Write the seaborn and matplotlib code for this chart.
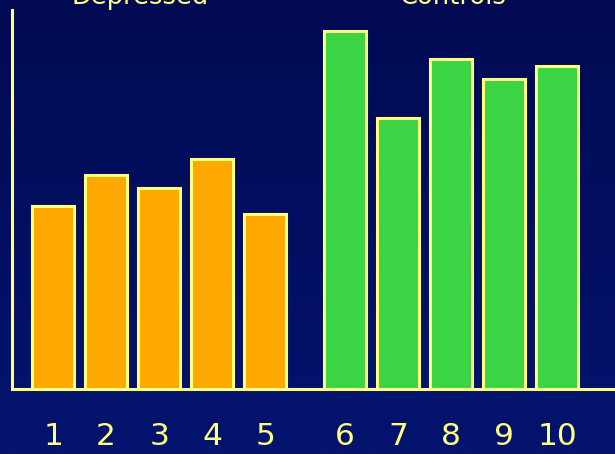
import numpy as np
import pandas as pd
import matplotlib
matplotlib.use("Agg")
import matplotlib.pyplot as plt
from matplotlib.colors import LinearSegmentedColormap
import seaborn as sns

# Subjects, their group and the measured value for each
subjects = ["1", "2", "3", "4", "5", "6", "7", "8", "9", "10"]
groups = ["Depressed"] * 5 + ["Controls"] * 5
values = [18.3, 21.4, 20.1, 23.0, 17.5, 35.8, 27.1, 33.0, 31.0, 32.3]
group_names = ["Depressed", "Controls"]

YELLOW = "#FFFF80"
palette = {"Depressed": "#FFA800", "Controls": "#3AD444"}

sns.set_theme(style="white")
plt.rcParams["font.family"] = ["DejaVu Sans"]

# Bars sit one unit apart, with an extra half unit between the two groups
group_gap = 0.5
positions = [i + 1 + (group_gap if g == "Controls" else 0.0)
             for i, g in enumerate(groups)]
df = pd.DataFrame({"pos": positions, "value": values, "group": groups,
                   "subject": subjects})

fig = plt.figure(figsize=(6.15, 4.54), dpi=100)

# Navy background, slightly brighter toward the bottom
bg = fig.add_axes([0, 0, 1, 1], zorder=-10)
cmap = LinearSegmentedColormap.from_list("navy", ["#010A52", "#04146F"])
bg.imshow(np.linspace(0, 1, 256).reshape(-1, 1), aspect="auto", cmap=cmap,
          extent=[0, 1, 0, 1])
bg.set_axis_off()

ax = fig.add_axes([12 / 615, 65 / 454, 1 - 12 / 615, 379 / 454])
ax.patch.set_alpha(0)

sns.barplot(data=df, x="pos", y="value", hue="group", palette=palette,
            native_scale=True, width=0.8, dodge=False, legend=False,
            edgecolor=YELLOW, linewidth=2.2, saturation=1, ax=ax)

ax.set_xlim(0.226, 11.594)
ax.set_ylim(0, 37.9)
ax.set_xticks(positions)
ax.set_xticklabels(subjects)
ax.set_yticks([])
ax.set_xlabel("")
ax.set_ylabel("")
ax.tick_params(axis="x", length=0, pad=24, labelsize=22.5, labelcolor=YELLOW)

for side in ("top", "right"):
    ax.spines[side].set_visible(False)
for side in ("left", "bottom"):
    ax.spines[side].set_color(YELLOW)
    ax.spines[side].set_linewidth(2.2)

# Group captions along the top edge of the figure
for name, xc in zip(group_names, (140, 453)):
    fig.text(xc / 615, 1 - 3.5 / 454, name, ha="center", va="baseline",
             color=YELLOW, fontsize=18.5)

fig.savefig("out.png", dpi=100)
